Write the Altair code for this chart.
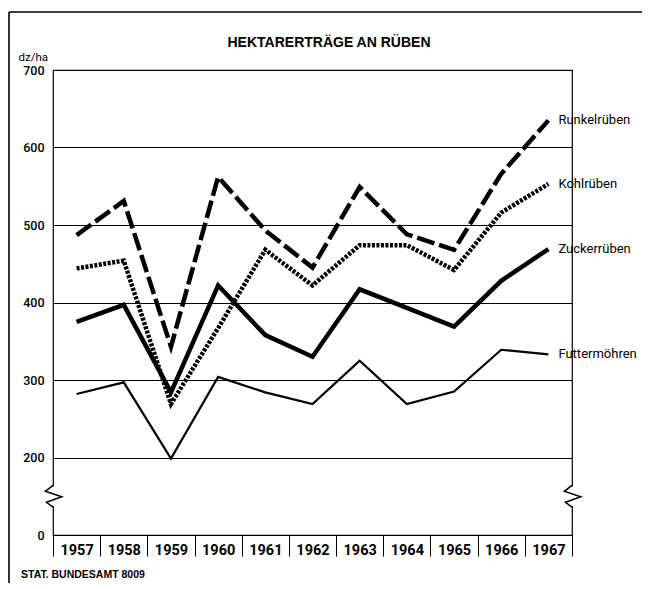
import altair as alt
import pandas as pd

years = [1957, 1958, 1959, 1960, 1961, 1962, 1963, 1964, 1965, 1966, 1967]
runkelrueben = [487, 531, 343, 562, 493, 445, 549, 488, 468, 566, 635]
kohlrueben = [444, 454, 269, 367, 468, 422, 474, 474, 442, 516, 553]
zuckerrueben = [375, 397, 284, 422, 358, 330, 417, 393, 369, 428, 469]
futtermoehren = [282, 297, 197, 304, 284, 269, 325, 269, 285, 339, 333]
series_names = ["Runkelrüben", "Kohlrüben", "Zuckerrüben", "Futtermöhren"]
y_ticks = [0, 200, 300, 400, 500, 600, 700]

W, H = 519, 465
FONT = "Roboto, Liberation Sans, sans-serif"

rows = []
for name, vals in zip(series_names, [runkelrueben, kohlrueben, zuckerrueben, futtermoehren]):
    for yr, v in zip(years, vals):
        rows.append({"year": yr, "value": v, "series": name})
df = pd.DataFrame(rows)
last = df[df["year"] == years[-1]]

xs = alt.X("year:O",
           scale=alt.Scale(type="band", paddingInner=0, paddingOuter=0),
           axis=alt.Axis(title=None, labelAngle=0, domain=False, tickBand="extent",
                         tickSize=21, tickColor="black", tickWidth=1,
                         labelFont=FONT, labelFontSize=14.5, labelFontWeight="bold",
                         labelColor="black", labelBaseline="middle", labelPadding=-6))
yscale = alt.Scale(domain=[0, 200, 700], range=[H, H * 5 / 6, 0], nice=False, zero=False)
ys = alt.Y("value:Q", scale=yscale,
           axis=alt.Axis(values=y_ticks, grid=True, gridColor="black", gridWidth=1.2,
                         gridOpacity=1, domain=False, ticks=False,
                         labelFont=FONT, labelFontSize=12.5, labelFontWeight=500,
                         labelColor="black",
                         labelPadding=9, title="dz/ha", titleAngle=0, titleAlign="left",
                         titleBaseline="middle", titleX=-35, titleY=-13,
                         titleFont=FONT, titleFontSize=11.5, titleFontWeight="normal",
                         titleColor="black"))

base = alt.Chart(df)

def line(name, width, dash=None):
    kw = dict(color="black", strokeWidth=width, strokeJoin="miter", strokeCap="butt")
    if dash:
        kw["strokeDash"] = dash
    return base.transform_filter(alt.datum.series == name).mark_line(**kw).encode(x=xs, y=ys)

l_runkel = line("Runkelrüben", 4.5, [18, 5])
l_kohl = line("Kohlrüben", 4.5, [3, 1.5])
l_zucker = line("Zuckerrüben", 4.5)
l_futter = line("Futtermöhren", 2.2)

end_labels = alt.Chart(last).mark_text(align="left", baseline="middle", dx=10, font=FONT,
                                       fontSize=13, color="black").encode(
    x=alt.X("year:O", scale=alt.Scale(type="band", paddingInner=0, paddingOuter=0)),
    y=alt.Y("value:Q", scale=yscale), text="series:N")

# frame break marks
gap = alt.Chart(pd.DataFrame({"p": [0, W]})).mark_rule(color="white", strokeWidth=4).encode(
    x=alt.X("p:Q", scale=None), y=alt.datum(125, scale=yscale), y2=alt.datum(75))
zig = alt.Chart(pd.DataFrame({"p": [0, W]})).mark_point(
    shape="M0,-1L-0.7,-0.45L0.8,0.05L-0.6,0.55L0,1", filled=False, color="black",
    strokeWidth=1.5, size=480, opacity=1).encode(
    x=alt.X("p:Q", scale=None), y=alt.datum(100, scale=yscale))

title = alt.Chart(pd.DataFrame({"t": ["HEKTARERTRÄGE AN RÜBEN"]})).mark_text(
    font="Liberation Sans, Arial, sans-serif", fontSize=14, fontWeight="bold",
    color="black", align="center", baseline="middle").encode(
    x=alt.value(276), y=alt.value(-27), text="t:N")
footer = alt.Chart(pd.DataFrame({"t": ["STAT. BUNDESAMT 8009"]})).mark_text(
    font="Liberation Sans, Arial, sans-serif", fontSize=10.5, fontWeight="bold",
    color="black", align="left", baseline="middle").encode(
    x=alt.value(-32), y=alt.value(505), text="t:N")

border_left = alt.Chart(pd.DataFrame({"a": [0]})).mark_rule(color="black", strokeWidth=1.6).encode(
    x=alt.value(-44), y=alt.value(-58), y2=alt.value(530))
border_top = alt.Chart(pd.DataFrame({"a": [0]})).mark_rule(color="black", strokeWidth=1.6).encode(
    x=alt.value(-44), x2=alt.value(589), y=alt.value(-58))

chart = alt.layer(
    l_futter, l_zucker, l_kohl, l_runkel, end_labels, gap, zig, title, footer,
    border_left, border_top
).properties(
    width=W, height=H,
    autosize=alt.AutoSizeParams(type="none"),
    padding={"left": 45, "top": 62, "right": 70, "bottom": 48},
    background="white",
).configure_view(stroke="black", strokeWidth=1.2)

chart.save("out.html", embed_options={"renderer": "svg", "actions": False})
